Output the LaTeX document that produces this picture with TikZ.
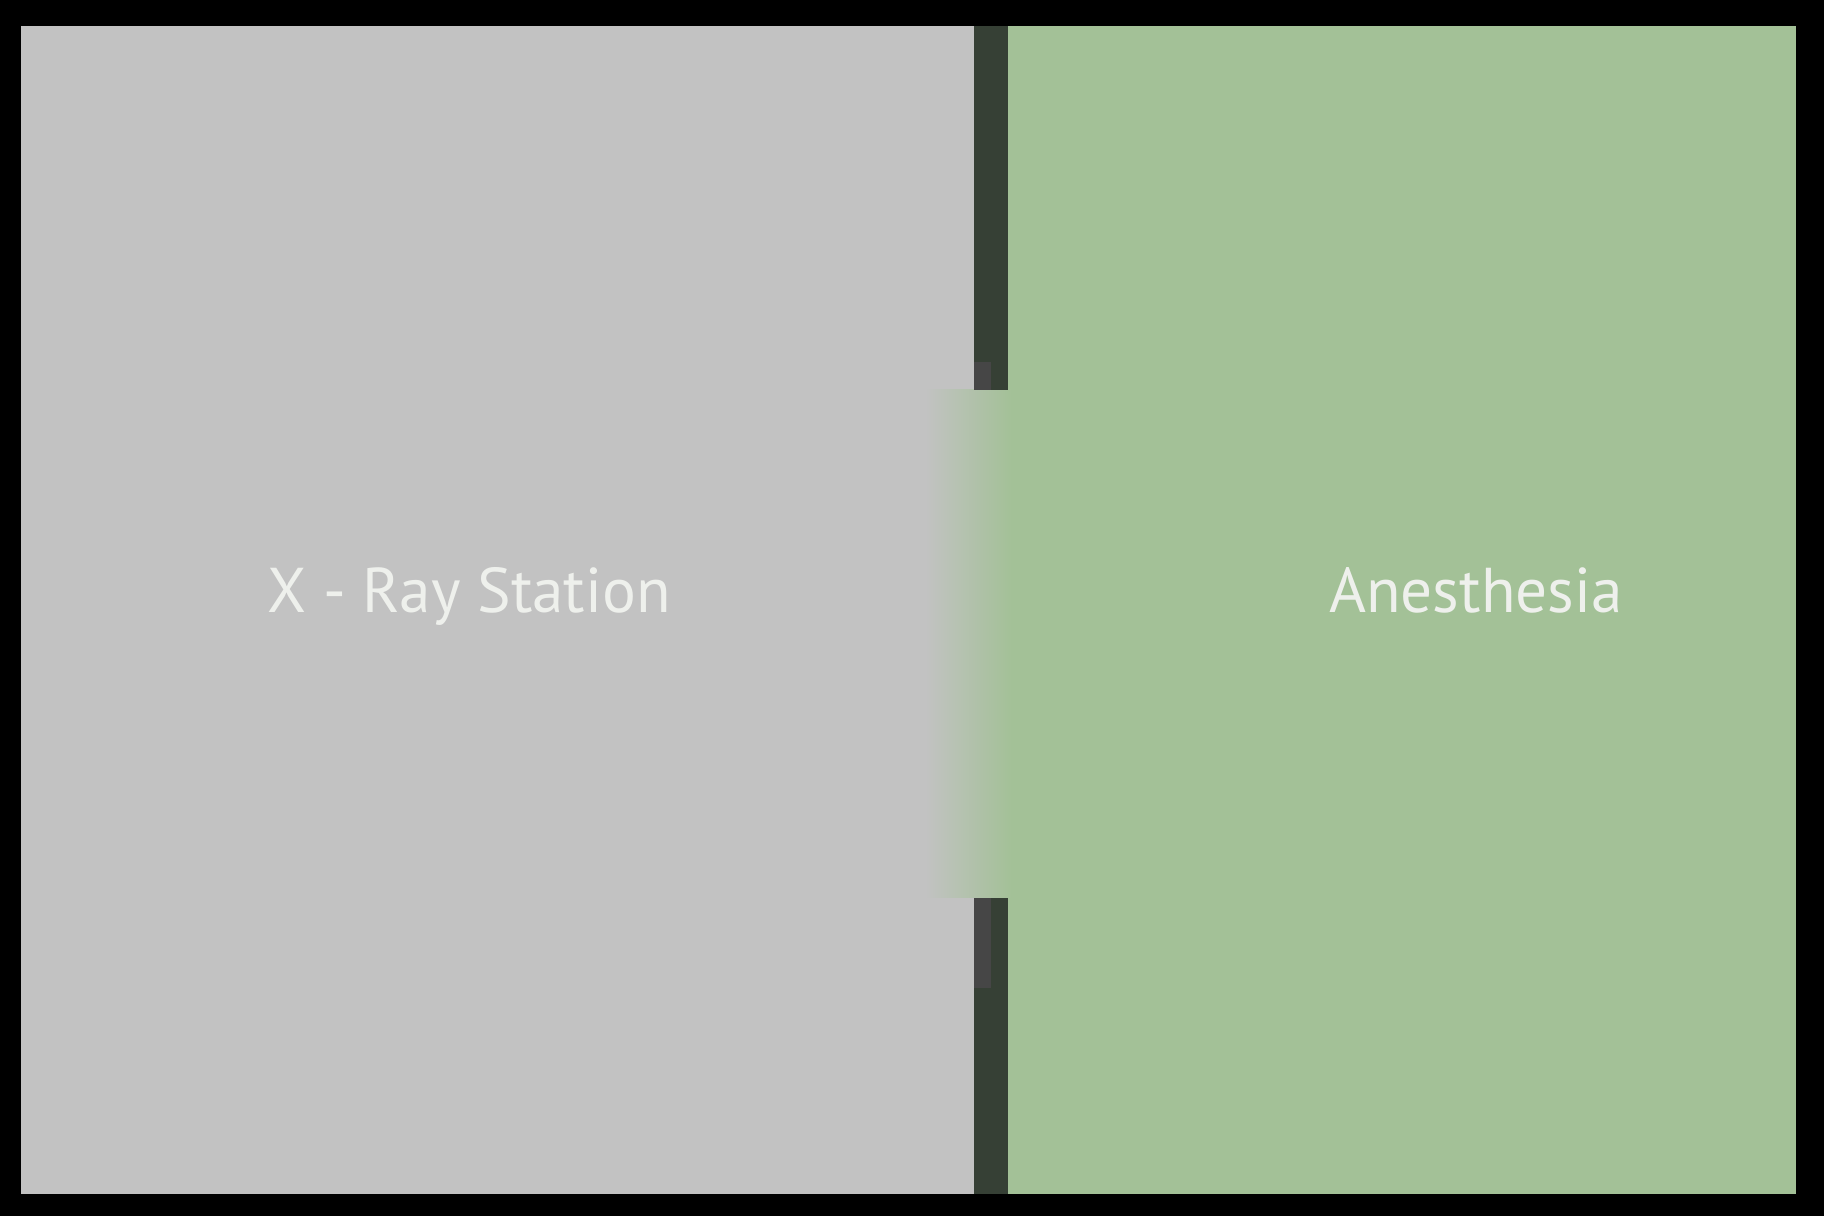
\documentclass[tikz,border=0pt]{standalone}
\usepackage{fontspec}
\setmainfont{PT Sans}
\usepackage{xcolor}
\usepackage{tikz}

\definecolor{roomgray}{HTML}{C2C2C2}
\definecolor{roomgreen}{HTML}{A3C197}
\definecolor{wallcol}{HTML}{364035}
\definecolor{jambcol}{HTML}{464646}
\definecolor{labelcol}{HTML}{EEF0EC}

\begin{document}
\begin{tikzpicture}[
    wall/.style={fill=wallcol},
    jamb/.style={fill=jambcol},
    roomlabel/.style={text=labelcol, font=\fontsize{18}{22}\selectfont, anchor=base}
  ]
    \useasboundingbox (0,0) rectangle (18.24,12.16);
    \fill[black] (0,0) rectangle (18.24,12.16);
    % rooms
    \fill[roomgray] (0.21,0.22) rectangle (9.74,11.90);
    \fill[roomgreen] (10.08,0.22) rectangle (17.96,11.90);
    % doorway
    \shade[left color=roomgray, right color=roomgreen] (9.25,3.18) rectangle (10.12,8.26);
    \fill[wall] (9.74,8.26) rectangle (10.08,11.90);
    \fill[wall] (9.74,0.22) rectangle (10.08,3.18);
    \fill[jamb] (9.74,8.26) rectangle (9.91,8.54);
    \fill[jamb] (9.74,2.28) rectangle (9.91,3.18);
    \node[roomlabel] (xray) at (4.69,6.03) {X - Ray Station};
    \node[roomlabel] (anesthesia) at (14.76,6.03) {Anesthesia};
\end{tikzpicture}
\end{document}
